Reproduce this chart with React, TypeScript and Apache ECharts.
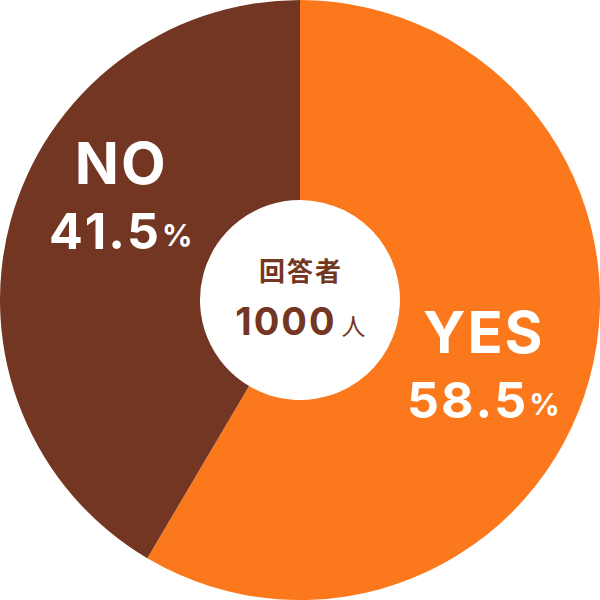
import React, { useEffect, useRef } from "react";
import * as echarts from "echarts";

const categories = ["YES", "NO"];
const values = [58.5, 41.5];
const colors = ["#FC781C", "#733622"];
const centerTitle = "回答者";
const centerCount = "1000";
const centerUnit = "人";

const FONT = '"Noto Sans CJK JP", "Noto Sans", sans-serif';
const LFONT = 'Inter, "Noto Sans", sans-serif';

export default function App() {
  const ref = useRef<HTMLDivElement>(null);
  useEffect(() => {
    document.body.style.margin = "0";
    const chart = echarts.init(ref.current!, null, { renderer: "svg" });
    const spaced = (s: string, tag: string) =>
      s.split("").map((c) => `{${tag}|${c}}`).join("");
    chart.setOption({
      animation: false,
      series: [
        {
          type: "pie",
          center: ["50%", "50%"],
          radius: [100, 300],
          startAngle: 90,
          clockwise: true,
          silent: true,
          data: categories.map((name, i) => ({
            name,
            value: values[i],
            itemStyle: { color: colors[i] },
          })),
          label: {
            show: true,
            position: "inside",
            fontFamily: LFONT,
            color: "#fff",
            formatter: (p: any) =>
              spaced(p.name, "n") + "\n" + spaced(String(p.value), "v") + "{p|%}",
            rich: {
              n: { fontFamily: LFONT, fontSize: 58, fontWeight: "bold", color: "#fff", padding: [0, 1], lineHeight: 70 },
              v: { fontFamily: LFONT, fontSize: 50, fontWeight: "bold", color: "#fff", padding: [0, 1], lineHeight: 66 },
              p: { fontFamily: LFONT, fontSize: 30, fontWeight: "bold", color: "#fff", padding: [8, 0, 0, 2], lineHeight: 66 },
            },
          },
          labelLine: { show: false },
          labelLayout: (params: any) =>
            params.dataIndex === 0 ? { dx: -13, dy: 11 } : { dx: 16, dy: -50 },
        },
      ],
      graphic: [
        {
          type: "text",
          left: "center",
          top: 256,
          style: {
            text: spaced(centerTitle, "t"),
            rich: {
              t: { fontFamily: FONT, fontSize: 26, fontWeight: "bold", fill: "#733622", padding: [0, 1] },
            },
          },
        },
        {
          type: "text",
          left: "center",
          top: 302,
          style: {
            text: spaced(centerCount, "c") + `{u|${centerUnit}}`,
            rich: {
              c: { fontFamily: LFONT, fontSize: 38, fontWeight: "bold", fill: "#733622", padding: [0, 1], lineHeight: 46 },
              u: { fontFamily: FONT, fontSize: 24, fill: "#733622", padding: [6, 0, 0, 6], lineHeight: 46 },
            },
          },
        },
      ],
    });
    return () => chart.dispose();
  }, []);
  return <div ref={ref} style={{ width: 600, height: 600 }} />;
}
